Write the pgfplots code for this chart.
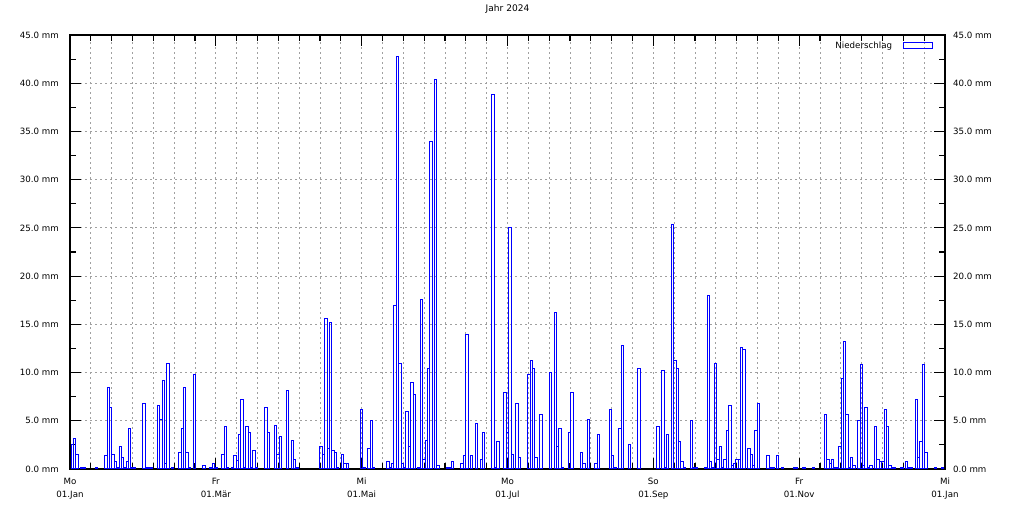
\documentclass[border=0pt]{standalone}
\usepackage{pgfplots}
\pgfplotsset{compat=1.18}
\usepackage{pgfplotstable}
\usepackage{fontspec}
\setmainfont{DejaVu Sans}

% daily precipitation 2024, day 0 = 01.Jan
\pgfplotstableread{
d mm
0 2.5
1 3.2
2 1.5
4 0.2
5 0.2
10 0.2
14 1.4
15 8.5
16 6.4
17 1.5
18 0.8
19 0.15
20 2.35
21 1.2
22 0.15
23 0.8
24 4.2
25 0.15
26 0.15
30 6.8
31 0.15
32 0.15
33 0.15
36 6.6
37 5.1
38 9.2
39 0.6
40 10.9
42 0.15
45 1.7
46 4.2
47 8.5
48 1.7
49 0.15
51 9.8
55 0.4
58 0.15
59 0.6
60 0.15
63 1.5
64 4.4
65 0.15
67 0.15
68 1.4
69 0.9
70 3.6
71 7.2
72 0.15
73 4.4
74 3.8
75 0.15
76 1.9
77 0.15
81 6.4
82 3.8
85 4.5
86 1.5
87 3.4
90 8.1
92 3.0
93 1.0
94 0.15
104 2.35
105 1.5
106 15.6
107 2.1
108 15.2
109 1.9
110 1.7
111 0.15
113 1.5
114 0.6
115 0.6
121 6.2
122 0.15
124 2.1
125 5.0
126 0.15
132 0.8
133 0.15
134 0.6
135 17.0
136 42.8
137 10.9
138 0.6
139 0.15
140 6.0
141 2.35
142 9.0
143 7.7
145 0.15
146 17.6
147 1.0
148 3.0
149 10.4
150 34.0
152 40.4
153 0.4
157 0.15
158 0.15
159 0.8
163 0.6
164 1.4
165 13.9
167 1.4
169 4.7
171 1.0
172 3.8
176 38.8
177 0.15
178 2.8
181 7.9
182 3.8
183 25.0
184 1.5
186 6.8
187 1.2
191 9.8
192 11.3
193 10.4
194 1.2
196 5.6
200 10.0
202 16.2
203 2.35
204 4.2
205 0.15
208 3.8
209 7.9
213 1.7
214 0.6
216 5.1
219 0.6
220 3.6
225 6.2
226 1.4
227 0.15
229 4.2
230 12.8
233 2.55
237 10.4
245 4.4
247 10.2
248 0.15
249 3.6
251 25.4
252 11.3
253 10.4
254 2.8
255 0.8
256 0.15
259 5.0
260 0.15
261 0.15
265 0.15
266 18.0
267 0.8
268 0.15
269 10.9
270 1.0
271 2.35
272 0.15
273 1.0
274 4.0
275 6.6
276 0.4
277 0.6
278 1.0
279 1.0
280 12.6
281 12.4
283 2.1
284 1.5
285 0.4
286 4.0
287 6.8
291 1.4
292 0.15
293 0.15
295 1.4
297 0.15
302 0.15
303 0.15
306 0.15
310 0.15
315 5.6
316 1.0
317 0.6
318 1.0
319 0.15
320 0.15
321 2.35
322 9.4
323 13.2
324 5.6
325 0.15
326 1.2
327 0.4
329 5.0
330 10.8
331 0.4
332 6.4
333 0.15
334 0.4
336 4.4
337 1.0
338 0.8
339 0.8
340 6.2
341 4.4
342 0.4
343 0.15
344 0.15
347 0.15
349 0.8
350 0.15
351 0.15
353 7.2
354 1.2
355 2.8
356 10.8
357 1.7
361 0.15
364 0.15
}\regen

\definecolor{gridgray}{RGB}{160,160,160}

\begin{document}
\begin{tikzpicture}
\path[use as bounding box] (-52.5pt,-28.5pt) rectangle (708.75pt,351.75pt);
\begin{axis}[
    at={(0pt,0pt)}, anchor=south west,
    scale only axis, width=656.25pt, height=325.5pt,
    xmin=0, xmax=366, ymin=0, ymax=45,
    xtick={0,61,...,366},
    xticklabels={{Mo\\01.Jan},{Fr\\01.Mär},{Mi\\01.Mai},{Mo\\01.Jul},{So\\01.Sep},{Fr\\01.Nov},{Mi\\01.Jan}},
    minor x tick num=6,
    ytick={0,5,...,45},
    yticklabels={0.0 mm,5.0 mm,10.0 mm,15.0 mm,20.0 mm,25.0 mm,30.0 mm,35.0 mm,40.0 mm,45.0 mm},
    minor y tick num=1,
    xmajorgrids, xminorgrids, ymajorgrids,
    major grid style={gridgray, line width=0.75pt, dash pattern=on 1.5pt off 2.25pt},
    minor grid style={gridgray, line width=0.75pt, dash pattern=on 1.5pt off 2.25pt},
    tick align=inside,
    major tick length=8pt, minor tick length=4.5pt,
    tick style={black, line width=0.9pt},
    axis line style={black, line width=1.1pt},
    tick label style={font=\fontsize{6.5}{9.75}\selectfont},
    xticklabel style={align=center, inner sep=0pt, yshift=-6.5pt},
    yticklabel style={inner xsep=0pt, xshift=-8.25pt},
    title={Jahr 2024},
    title style={at={(0.5,1)}, anchor=base, yshift=11.6pt, font=\fontsize{6.8}{8}\selectfont},
    legend plot pos=right,
    legend style={at={(rel axis cs:1,0.9747)}, anchor=east, xshift=-9pt,
        draw=none, fill=none, inner sep=0pt,
        font=\fontsize{6.5}{8}\selectfont},
]
\addplot[ybar, bar width=1, bar shift=0pt, draw=blue, fill=none, line width=0.75pt,
    legend image code/.code={\path (0pt,0pt); \draw[blue, line width=0.75pt] (6pt,-2.25pt) rectangle (27.75pt,2.25pt);}]
    table[x expr=\thisrow{d}+1, y=mm] {\regen};
\addlegendentry{Niederschlag}
\end{axis}
\begin{axis}[
    at={(0pt,0pt)}, anchor=south west,
    scale only axis, width=656.25pt, height=325.5pt,
    xmin=0, xmax=366, ymin=0, ymax=45,
    axis x line=none, axis y line*=right,
    axis line style={draw=none},
    ytick={0,5,...,45},
    yticklabels={0.0 mm,5.0 mm,10.0 mm,15.0 mm,20.0 mm,25.0 mm,30.0 mm,35.0 mm,40.0 mm,45.0 mm},
    ytick style={draw=none}, major tick length=0pt,
    yticklabel style={inner xsep=0pt, xshift=5.8pt, font=\fontsize{6.5}{9.75}\selectfont},
]
\end{axis}
\end{tikzpicture}
\end{document}
